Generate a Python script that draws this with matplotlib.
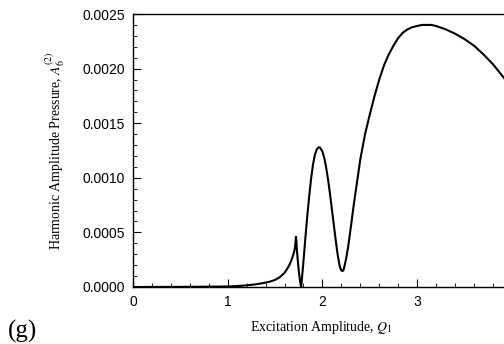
import matplotlib
matplotlib.use("Agg")
import matplotlib.pyplot as plt
from matplotlib.ticker import MultipleLocator, FormatStrFormatter

q1 = [0.0, 0.5, 0.8, 1.0, 1.1, 1.2, 1.3, 1.4, 1.45, 1.5, 1.55, 1.6, 1.63, 1.65, 1.67, 1.69, 1.70,
      1.71, 1.715, 1.72, 1.725, 1.73, 1.74, 1.75, 1.76, 1.77, 1.775,
      1.78, 1.79, 1.80, 1.82, 1.84, 1.86, 1.88, 1.90, 1.92, 1.94, 1.96, 1.97, 1.98, 2.0, 2.02,
      2.04, 2.06, 2.08, 2.10, 2.12, 2.14, 2.16, 2.18, 2.19, 2.20, 2.21, 2.22, 2.23,
      2.25, 2.27, 2.30, 2.33, 2.36, 2.40, 2.45, 2.50, 2.55, 2.60, 2.65, 2.70, 2.75, 2.80, 2.85,
      2.90, 2.95, 3.00, 3.05, 3.10, 3.15, 3.20, 3.30, 3.40, 3.50, 3.60, 3.70, 3.80, 3.93]
a6 = [0.0, 0.000001, 0.000003, 0.000005, 0.000009, 0.000015, 0.000025, 0.00004, 0.00005,
      0.000065, 0.00009, 0.00013, 0.00017, 0.0002, 0.00024, 0.00029, 0.00032,
      0.00036, 0.00040, 0.00046, 0.00042, 0.00034, 0.00024, 0.00015, 0.00008, 0.00002, 0.0,
      0.00004, 0.00014, 0.00024, 0.00045, 0.00065, 0.00083, 0.00099, 0.00112, 0.00121,
      0.00126, 0.00128, 0.00128, 0.00127, 0.00124, 0.00118,
      0.00109, 0.00098, 0.00085, 0.00071, 0.00057, 0.00043, 0.00030, 0.00020, 0.00017,
      0.00015, 0.000147, 0.00015, 0.00018,
      0.00026, 0.00036, 0.00055, 0.00075, 0.00093, 0.00117, 0.00140, 0.00158, 0.00175, 0.00190,
      0.00203, 0.00213, 0.00221, 0.00228, 0.00233, 0.00236, 0.00238, 0.00239, 0.00240, 0.00240,
      0.00240, 0.00239, 0.00236, 0.00232, 0.00227, 0.00221, 0.00213, 0.00204, 0.00190]

plt.rcParams['mathtext.fontset'] = 'stix'

fig = plt.figure(figsize=(5.04, 3.44), dpi=100)
ax = fig.add_axes([133/504, 1 - 287/344, 1 - 133/504 + 0.01, (287 - 14)/344])
ax.plot(q1, a6, color='black', lw=1.5)
ax.set_xlim(0, 3.97)
ax.set_ylim(0, 0.0025)
ax.spines['right'].set_visible(False)
for s in ax.spines.values():
    s.set_linewidth(1.0)

ax.xaxis.set_major_locator(MultipleLocator(1))
ax.xaxis.set_minor_locator(MultipleLocator(0.2))
ax.yaxis.set_major_locator(MultipleLocator(0.0005))
ax.yaxis.set_minor_locator(MultipleLocator(0.0001))
ax.yaxis.set_major_formatter(FormatStrFormatter('%.4f'))
ax.xaxis.set_major_formatter(FormatStrFormatter('%d'))
ax.tick_params(which='both', direction='in', top=False, right=False)
ax.tick_params(which='major', length=6, labelsize=10)
ax.tick_params(which='minor', length=3)
for lab in ax.get_xticklabels() + ax.get_yticklabels():
    lab.set_fontfamily('Liberation Sans')
ax.tick_params(axis='y', pad=6)
ax.tick_params(axis='x', pad=6)

ax.set_xlabel('Excitation Amplitude, $Q_1$', family='Liberation Serif', fontsize=10, labelpad=7)
ax.set_ylabel('Harmonic Amplitude Pressure, $A_6^{(2)}$', family='Liberation Serif', fontsize=10, labelpad=11)

fig.text(8/504, 0.004, '(g)', family='Liberation Serif', fontsize=18, ha='left', va='bottom')

fig.savefig('out.png', dpi=100)
